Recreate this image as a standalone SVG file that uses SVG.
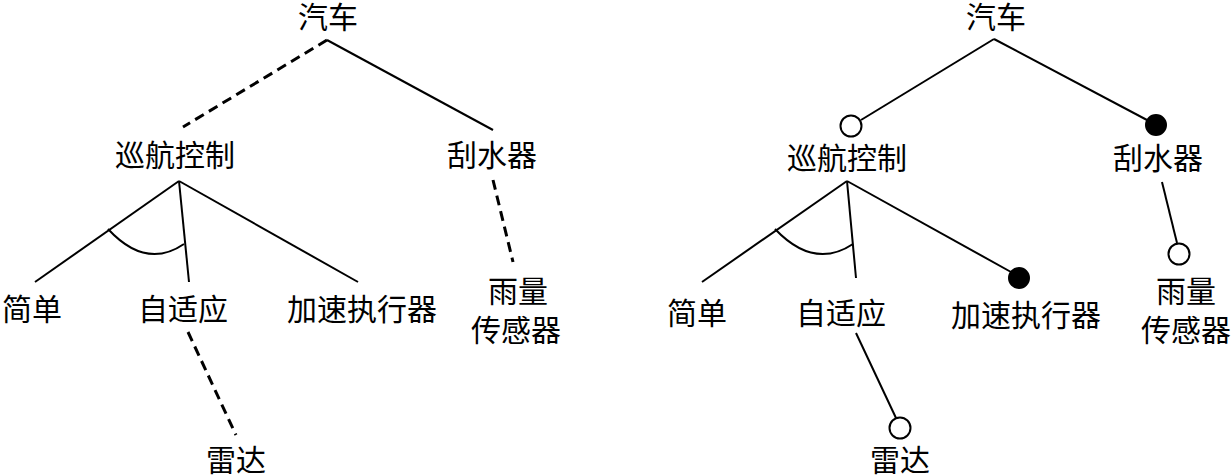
<svg xmlns="http://www.w3.org/2000/svg" width="1232" height="476" viewBox="0 0 1232 476">
<style>
text{font-family:"Noto Sans CJK SC","Noto Sans CJK JP",sans-serif;font-size:30px;fill:#000;text-anchor:middle}
.l{stroke:#000;stroke-width:2;fill:none}
.d{stroke:#000;stroke-width:3;fill:none;stroke-dasharray:10,6}
.o{fill:#fff;stroke:#000;stroke-width:2}
.f{fill:#000;stroke:#000;stroke-width:2}
</style>
<rect width="1232" height="476" fill="#fff"/>
<g id="connectors">
<line class="d" x1="327" y1="40" x2="183" y2="127"/>
<line class="l" x1="327" y1="40" x2="493" y2="130"/>
<line class="l" x1="179" y1="181" x2="35" y2="282"/>
<line class="l" x1="179" y1="181" x2="189" y2="282"/>
<line class="l" x1="179" y1="181" x2="358" y2="282"/>
<path class="l" d="M108,229 Q146,270 184,244"/>
<line class="d" x1="493" y1="180" x2="513" y2="262"/>
<line class="d" x1="188" y1="332" x2="236" y2="435"/>
<line class="l" x1="994" y1="39" x2="861" y2="120"/>
<line class="l" x1="994" y1="39" x2="1147" y2="120"/>
<line class="l" x1="847" y1="181" x2="702" y2="282"/>
<line class="l" x1="847" y1="181" x2="856" y2="278"/>
<line class="l" x1="847" y1="181" x2="1011" y2="272"/>
<path class="l" d="M775,229 Q814,270 853,244"/>
<line class="l" x1="1162" y1="182" x2="1177" y2="243"/>
<line class="l" x1="856" y1="333" x2="896" y2="418"/>
<circle class="o" cx="851" cy="126" r="10.5"/>
<circle class="f" cx="1156" cy="125" r="10"/>
<circle class="f" cx="1019" cy="278" r="10"/>
<circle class="o" cx="1179" cy="254" r="10.5"/>
<circle class="o" cx="900" cy="428" r="10.5"/>
</g>
<g id="L-car"><text x="328" y="28">汽车</text></g>
<g id="L-cruise"><text x="175" y="166">巡航控制</text></g>
<g id="L-wiper"><text x="492" y="166">刮水器</text></g>
<g id="L-simple"><text x="32" y="320">简单</text></g>
<g id="L-adaptive"><text x="183" y="320">自适应</text></g>
<g id="L-accel"><text x="362" y="320">加速执行器</text></g>
<g id="L-rain"><text x="518" y="302">雨量</text><text x="516" y="341">传感器</text></g>
<g id="L-radar"><text x="236" y="471">雷达</text></g>
<g id="R-car"><text x="996" y="28">汽车</text></g>
<g id="R-cruise"><text x="847" y="169">巡航控制</text></g>
<g id="R-wiper"><text x="1158" y="169">刮水器</text></g>
<g id="R-simple"><text x="697" y="324">简单</text></g>
<g id="R-adaptive"><text x="841" y="324">自适应</text></g>
<g id="R-accel"><text x="1026" y="326">加速执行器</text></g>
<g id="R-rain"><text x="1186" y="302">雨量</text><text x="1186" y="341">传感器</text></g>
<g id="R-radar"><text x="900" y="471">雷达</text></g>
</svg>
